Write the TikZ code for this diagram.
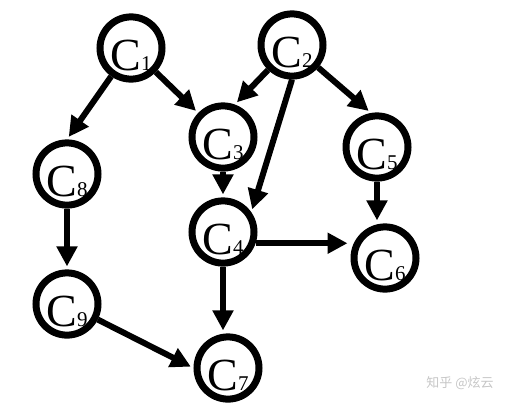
\documentclass[tikz,border=0pt]{standalone}
\usepackage{fontspec}
\setmainfont{Liberation Serif}
\newfontfamily\cjkfont{Noto Sans CJK SC}
\usetikzlibrary{shapes.geometric,arrows.meta}

% label of a task node: big C with a small index
\newcommand{\cname}[1]{C{\fontsize{21}{21}\selectfont #1}}

\tikzset{
  task/.style={ellipse, draw, line width=7pt, minimum width=62pt, minimum height=58pt,
    inner sep=0pt, text height=44pt, text depth=0pt, font=\fontsize{46}{46}\selectfont},
  dep/.style={line width=6pt, -{Triangle[length=20pt,width=20pt]}, shorten >=3pt}
}

\begin{document}
\begin{tikzpicture}[x=1pt,y=-1pt]

        \useasboundingbox (0,0) rectangle (513,405);

        % Task nodes
        \node[task] (c1) at (131,48) {\cname{1}};
        \node[task] (c2) at (292,45) {\cname{2}};
        \node[task] (c3) at (223,137) {\cname{3}};
        \node[task] (c5) at (377,147) {\cname{5}};
        \node[task] (c8) at (67,174) {\cname{8}};
        \node[task] (c4) at (223,232) {\cname{4}};
        \node[task] (c6) at (385,258) {\cname{6}};
        \node[task] (c9) at (67,304) {\cname{9}};
        \node[task] (c7) at (228,368) {\cname{7}};

        % Dependencies
        \draw[dep] (c1) -- (c8.north);
        \draw[dep] (c1) -- (c3);
        \draw[dep] (c2) -- (c3.70);
        \draw[dep] (c2.south) -- (c4.35);
        \draw[dep] (c2) -- (c5.100);
        \draw[dep] (c3) -- (c4);
        \draw[dep] (c5.south) -- (c5.south |- c6.north);
        \draw[dep] (c4.-19) -- (c4.-19 -| c6.west);
        \draw[dep] (c4.south) -- (c4.south |- c7.north);
        \draw[dep] (c8) -- (c9);
        \draw[dep] (c9) -- (c7.west);

        % Watermark
        \node[text=gray!45, font=\cjkfont\fontsize{13}{13}\selectfont] (mark) at (460,383) {知乎 @炫云};

\end{tikzpicture}
\end{document}
